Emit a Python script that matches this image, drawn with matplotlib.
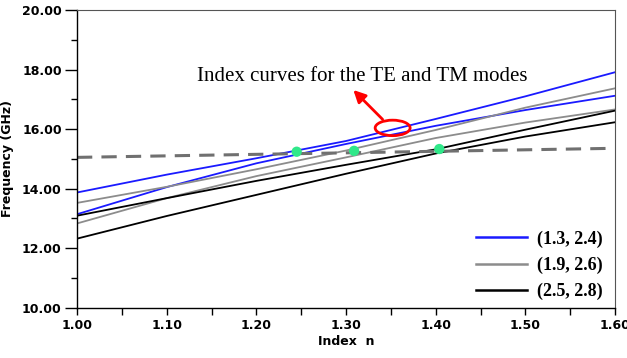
import matplotlib
matplotlib.use("Agg")
import matplotlib.pyplot as plt
from matplotlib.patches import Ellipse
from matplotlib.ticker import MultipleLocator, FormatStrFormatter

# index values where the curves were read
n_vals = [1.00, 1.10, 1.20, 1.30, 1.40, 1.50, 1.60]

# (1.3, 2.4) pair
blue_hi = [13.87, 14.47, 15.02, 15.60, 16.34, 17.10, 17.91]
blue_lo = [13.14, 14.05, 14.85, 15.50, 16.11, 16.64, 17.12]
# (1.9, 2.6) pair
gray_hi = [13.52, 14.06, 14.65, 15.28, 15.97, 16.72, 17.37]
gray_lo = [12.83, 13.68, 14.42, 15.05, 15.70, 16.22, 16.66]
# (2.5, 2.8) pair
black_hi = [13.09, 13.68, 14.26, 14.80, 15.32, 15.98, 16.62]
black_lo = [12.32, 13.08, 13.79, 14.50, 15.18, 15.75, 16.23]

# operating frequency (dashed)
dash_n = [1.00, 1.59]
dash_f = [15.05, 15.35]

# crossing points
cross_n = [1.245, 1.309, 1.404]
cross_f = [15.24, 15.27, 15.33]

legend_labels = ["(1.3, 2.4)", "(1.9, 2.6)", "(2.5, 2.8)"]

fig = plt.figure(figsize=(6.27, 3.58), dpi=100)
ax = fig.add_axes([0.1228, 0.1405, 0.8581, 0.8315])

lw = 1.3
h1, = ax.plot(n_vals, blue_hi, color="#1a1aff", lw=lw)
ax.plot(n_vals, blue_lo, color="#1a1aff", lw=lw)
h2, = ax.plot(n_vals, gray_hi, color="#8c8c8c", lw=lw)
ax.plot(n_vals, gray_lo, color="#8c8c8c", lw=lw)
h3, = ax.plot(n_vals, black_hi, color="black", lw=lw)
ax.plot(n_vals, black_lo, color="black", lw=lw)

ax.plot(dash_n, dash_f, color="#707070", lw=2.2, dashes=(5, 3))
ax.scatter(cross_n, cross_f, s=55, color="#30e88a", zorder=5, edgecolors="none")

# annotation with ellipse + arrow
ax.add_patch(Ellipse((1.352, 16.04), 0.039, 0.52, fill=False,
                     edgecolor="red", lw=2, zorder=6))
ax.annotate("", xy=(1.306, 17.38), xytext=(1.343, 16.26),
            arrowprops=dict(arrowstyle="-|>", color="red", lw=2,
                            mutation_scale=18))
ax.text(1.134, 17.76, "Index curves for the TE and TM modes",
        fontfamily="Liberation Serif", fontsize=15, va="center", ha="left")

ax.set_xlim(1.0, 1.6)
ax.set_ylim(10, 20)
ax.xaxis.set_major_locator(MultipleLocator(0.1))
ax.xaxis.set_minor_locator(MultipleLocator(0.05))
ax.yaxis.set_major_locator(MultipleLocator(2))
ax.yaxis.set_minor_locator(MultipleLocator(1))
ax.xaxis.set_major_formatter(FormatStrFormatter("%.2f"))
ax.yaxis.set_major_formatter(FormatStrFormatter("%.2f"))

ax.tick_params(axis="x", which="both", direction="out", length=5, width=1,
               labelsize=9, pad=3)
ax.tick_params(axis="y", which="major", direction="out", length=9, width=1,
               labelsize=9, pad=2)
ax.tick_params(axis="y", which="minor", direction="out", length=4, width=1)
for lab in ax.get_xticklabels() + ax.get_yticklabels():
    lab.set_fontweight("bold")
    lab.set_fontfamily("DejaVu Sans")

for s in ["left", "bottom"]:
    ax.spines[s].set_color("black")
    ax.spines[s].set_linewidth(1)
for s in ["top", "right"]:
    ax.spines[s].set_color("#555555")
    ax.spines[s].set_linewidth(0.8)

ax.set_xlabel("Index  n", fontsize=9, fontweight="bold",
              fontfamily="DejaVu Sans", labelpad=2)
ax.set_ylabel("Frequency (GHz)", fontsize=9, fontweight="bold",
              fontfamily="DejaVu Sans", labelpad=6)

leg = ax.legend([h1, h2, h3], legend_labels, loc="lower right",
                bbox_to_anchor=(1.008, -0.03), frameon=False, handlelength=2.8,
                handletextpad=0.6, labelspacing=0.5,
                prop={"family": "Liberation Serif", "weight": "bold", "size": 13})
for line in leg.get_lines():
    line.set_linewidth(1.8)

fig.savefig("out.png", dpi=100)
